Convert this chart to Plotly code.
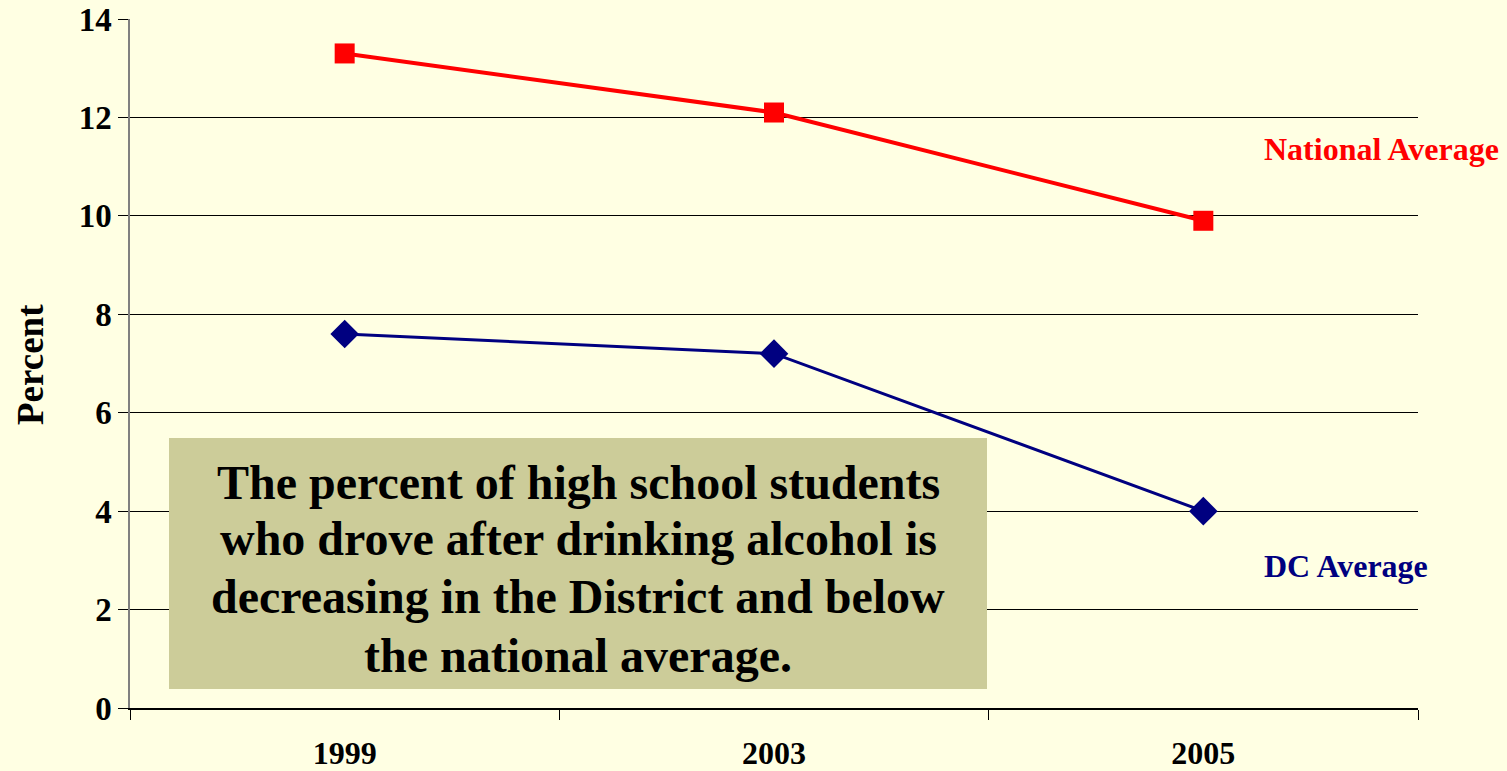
import plotly.graph_objects as go

years = ["1999", "2003", "2005"]
national = [13.3, 12.1, 9.9]
dc = [7.6, 7.2, 4.0]
y_ticks = [0, 2, 4, 6, 8, 10, 12, 14]
box_lines = [
    "The percent of high school students",
    "who drove after drinking alcohol is",
    "decreasing in the District and below",
    "the national average.",
]

BG = "#FFFFE3"
FONT = "Liberation Serif"
PL, PR, PT, PB = 130, 1418, 19, 708  # plot area in pixels
PW, PH = PR - PL, PB - PT


def px_x(x):
    return (x - PL) / PW


def px_y(y):
    return (PB - y) / PH


fig = go.Figure()
fig.add_trace(go.Scatter(x=years, y=national, mode="lines+markers",
                         line=dict(color="#FF0000", width=4),
                         marker=dict(symbol="square", size=20, color="#FF0000"),
                         name="National Average", showlegend=False))
fig.add_trace(go.Scatter(x=years, y=dc, mode="lines+markers",
                         line=dict(color="#000080", width=3),
                         marker=dict(symbol="diamond", size=22, color="#000080"),
                         name="DC Average", showlegend=False))

fig.add_shape(type="rect", xref="paper", yref="paper",
              x0=px_x(169), x1=px_x(987), y0=px_y(689), y1=px_y(438),
              fillcolor="#CCCC99", line=dict(width=0), layer="above")

for line, yc in zip(box_lines, [482, 538, 596, 655]):
    fig.add_annotation(xref="paper", yref="paper", x=px_x(578), y=px_y(yc),
                       xanchor="center", yanchor="middle",
                       text=line, showarrow=False,
                       font=dict(family=FONT, size=48, color="#000000", weight="bold"))

fig.add_annotation(xref="paper", yref="paper", x=px_x(1262), y=px_y(149),
                   xanchor="left", yanchor="middle", text="National Average", showarrow=False,
                   font=dict(family=FONT, size=32, color="#FF0000", weight="bold"))
fig.add_annotation(xref="paper", yref="paper", x=px_x(1262), y=px_y(566),
                   xanchor="left", yanchor="middle", text="DC Average", showarrow=False,
                   font=dict(family=FONT, size=32, color="#000080", weight="bold"))

fig.add_annotation(xref="paper", yref="paper", x=px_x(30), y=px_y(365),
                   xanchor="center", yanchor="middle",
                   text="Percent", textangle=-90, showarrow=False,
                   font=dict(family=FONT, size=37, color="#000000", weight="bold"))

fig.update_layout(
    width=1507, height=771,
    paper_bgcolor=BG, plot_bgcolor=BG,
    margin=dict(l=PL, r=1507 - PR, t=PT, b=771 - PB),
    font=dict(family=FONT, color="#000000"),
)
fig.update_xaxes(type="category", range=[-0.5, 2.5], tickson="boundaries",
                 ticks="outside", ticklen=10, tickcolor="#000000",
                 showline=True, linecolor="#000000", linewidth=1.5,
                 showgrid=False, ticklabelstandoff=16, automargin=False,
                 tickfont=dict(family=FONT, size=32, weight="bold"))
fig.update_yaxes(range=[0, 14], tickvals=y_ticks, ticks="outside", ticklen=10,
                 tickcolor="#000000", showline=True, linecolor="#808080", linewidth=1.5,
                 showgrid=True, gridcolor="#000000", gridwidth=1, zeroline=False,
                 automargin=False,
                 tickfont=dict(family=FONT, size=33, weight="bold"))

fig.write_html("out.html", config={"displayModeBar": False},
               post_script="document.body.style.margin='0';document.body.style.background='%s';" % BG)
